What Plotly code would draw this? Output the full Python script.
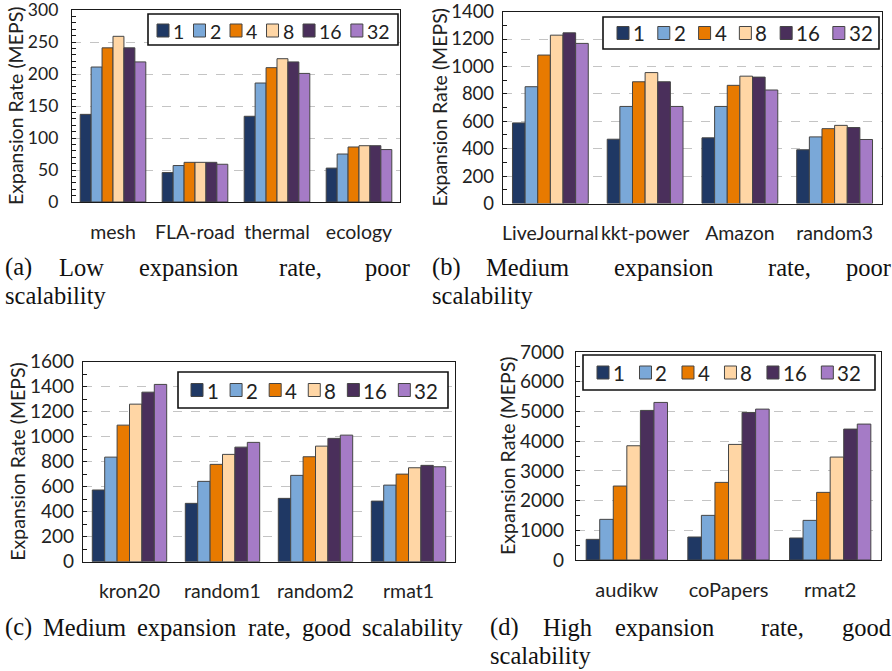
import plotly.graph_objects as go

W, H = 892, 671

# Thread counts (series) and their bar colours
threads = ["1", "2", "4", "8", "16", "32"]
bar_colors = ["#1F3864", "#7AA8D8", "#E87A00", "#FFD6A5", "#4A2F5B", "#A57BC6"]

# (a) Low expansion rate, poor scalability
cats_a = ["mesh", "FLA-road", "thermal", "ecology"]
rates_a = [
    [137, 46, 134, 53],     # 1
    [211, 57, 186, 75],     # 2
    [241, 62, 210, 86],     # 4
    [259, 62, 224, 88],     # 8
    [241, 62, 219, 88],     # 16
    [219, 59, 201, 82],     # 32
]

# (b) Medium expansion rate, poor scalability
cats_b = ["LiveJournal", "kkt-power", "Amazon", "random3"]
rates_b = [
    [588, 469, 479, 392],
    [852, 708, 708, 486],
    [1083, 888, 862, 546],
    [1228, 955, 929, 570],
    [1245, 888, 922, 554],
    [1168, 708, 828, 467],
]

# (c) Medium expansion rate, good scalability
cats_c = ["kron20", "random1", "random2", "rmat1"]
rates_c = [
    [574, 467, 507, 485],
    [837, 643, 691, 613],
    [1093, 779, 840, 701],
    [1261, 859, 925, 752],
    [1357, 917, 987, 771],
    [1419, 955, 1013, 760],
]

# (d) High expansion rate, good scalability
cats_d = ["audikw", "coPapers", "rmat2"]
rates_d = [
    [695, 774, 740],
    [1368, 1502, 1334],
    [2489, 2612, 2276],
    [3845, 3890, 3464],
    [5034, 4966, 4406],
    [5303, 5078, 4574],
]

y_title = "Expansion Rate (MEPS)"

# Panel geometry in pixels: plot box (left, top, right, bottom), axis settings,
# y-title centre x, and legend box / first swatch / row centre / font / item spacing
panels = [
    dict(cats=cats_a, rates=rates_a, box=(72, 10, 400, 202), ymax=300, dtick=50, minor=10,
         cat_size=19.5, tick_size=17.5, tick_gap=9, title_x=16,
         leg_box=(148, 14, 398, 45), leg_x=157, leg_cy=30.5, leg_font=19.5, leg_c=25.2),
    dict(cats=cats_b, rates=rates_b, box=(503, 11.5, 882, 203.5), ymax=1400, dtick=200, minor=100,
         cat_size=19.5, tick_size=18.5, tick_gap=4, title_x=439,
         leg_box=(603, 17, 879, 49), leg_x=617, leg_cy=33, leg_font=20.5, leg_c=28.9),
    dict(cats=cats_c, rates=rates_c, box=(83, 361.7, 455, 561.7), ymax=1600, dtick=200, minor=100,
         cat_size=19.5, tick_size=19, tick_gap=4, title_x=18,
         leg_box=(178, 372, 448, 408), leg_x=191, leg_cy=390, leg_font=20.5, leg_c=27.2),
    dict(cats=cats_d, rates=rates_d, box=(576, 351.9, 881, 560), ymax=7000, dtick=1000, minor=500,
         cat_size=20, tick_size=19, tick_gap=7, title_x=508,
         leg_box=(583, 355, 875, 390), leg_x=597, leg_cy=372.5, leg_font=20.5, leg_c=30.6),
]

# Sub-figure captions, set word by word to keep the justified lines: (text, left x, centre y)
captions = [
    ("(a)", 3, 267), ("Low", 57, 267), ("expansion", 137, 267), ("rate,", 277, 267),
    ("poor", 363, 267), ("scalability", 3, 295),
    ("(b)", 430, 267), ("Medium", 484, 267), ("expansion", 612, 267), ("rate,", 766, 267),
    ("poor", 844, 267), ("scalability", 430, 295),
    ("(c)", 3, 627), ("Medium", 41, 627), ("expansion", 135, 627), ("rate,", 246, 627),
    ("good", 300, 627), ("scalability", 360, 627),
    ("(d)", 488, 627), ("High", 541, 627), ("expansion", 613, 627), ("rate,", 759, 627),
    ("good", 840, 627), ("scalability", 488, 655),
]

SANS = "Lato"
SERIF = "Liberation Serif"
TXT = "#222222"


def fx(px):
    return px / W


def fy(py):
    return 1 - py / H


fig = go.Figure()
shapes = []
annotations = []

for i, p in enumerate(panels):
    n = "" if i == 0 else str(i + 1)
    for t, name in enumerate(threads):
        fig.add_trace(go.Bar(
            x=p["cats"], y=p["rates"][t], name=name,
            marker=dict(color=bar_colors[t], line=dict(color="#454545", width=1)),
            xaxis="x" + n, yaxis="y" + n, showlegend=False,
        ))

    x0, y0, x1, y1 = p["box"]
    fig.layout["xaxis" + n] = dict(
        domain=[fx(x0), fx(x1)], anchor="y" + n,
        showline=True, linecolor="#1a1a1a", linewidth=1.4, mirror=True,
        ticks="", showgrid=False, automargin=False,
        tickfont=dict(family=SANS, size=p["cat_size"], color=TXT),
        ticklabelstandoff=12,
    )
    fig.layout["yaxis" + n] = dict(
        domain=[fy(y1), fy(y0)], anchor="x" + n,
        range=[0, p["ymax"] * 1.0005], dtick=p["dtick"], tick0=0,
        showline=True, linecolor="#1a1a1a", linewidth=1.4, mirror=True,
        zeroline=False, automargin=False,
        showgrid=True, gridcolor="#c4c4c4", gridwidth=1, griddash="dash",
        ticks="inside", ticklen=4, tickcolor="#1a1a1a",
        minor=dict(dtick=p["minor"], ticks="inside", ticklen=4, tickcolor="#1a1a1a", showgrid=False),
        tickfont=dict(family=SANS, size=p["tick_size"], color=TXT),
        ticklabelstandoff=p["tick_gap"], ticklabeloverflow="allow",
    )

    # Rotated y-axis title centred on the plot height
    annotations.append(dict(text=y_title, xref="paper", yref="paper",
                            x=fx(p["title_x"]), y=fy((y0 + y1) / 2), xanchor="center", yanchor="middle",
                            textangle=-90, showarrow=False,
                            font=dict(family=SANS, size=19.5, color=TXT)))

    # Legend: framed box with a colour swatch and label for each thread count
    lx0, ly0, lx1, ly1 = p["leg_box"]
    shapes.append(dict(type="rect", xref="paper", yref="paper",
                       x0=fx(lx0), x1=fx(lx1), y0=fy(ly1), y1=fy(ly0),
                       line=dict(color="#111111", width=1.6), fillcolor="white", layer="above"))
    sw, sh = 12, 13
    digit_w = 0.58 * p["leg_font"]
    x = p["leg_x"]
    cy = p["leg_cy"]
    for t, name in enumerate(threads):
        shapes.append(dict(type="rect", xref="paper", yref="paper",
                           x0=fx(x), x1=fx(x + sw), y0=fy(cy + sh / 2), y1=fy(cy - sh / 2),
                           line=dict(color="#454545", width=1), fillcolor=bar_colors[t], layer="above"))
        annotations.append(dict(text=name, xref="paper", yref="paper",
                                x=fx(x + sw + 2), y=fy(cy + 0.5), xanchor="left", yanchor="middle",
                                showarrow=False, font=dict(family=SANS, size=p["leg_font"], color=TXT)))
        x += p["leg_c"] + digit_w * len(name)

for text, cx, cy in captions:
    annotations.append(dict(text=text, xref="paper", yref="paper",
                            x=fx(cx), y=fy(cy), xanchor="left", yanchor="middle",
                            showarrow=False, font=dict(family=SERIF, size=24.5, color="#111111")))

fig.update_layout(
    width=W, height=H,
    margin=dict(l=0, r=0, t=0, b=0),
    paper_bgcolor="white", plot_bgcolor="white",
    barmode="group", bargap=0.2, bargroupgap=0,
    shapes=shapes, annotations=annotations,
    showlegend=False,
)

fig.write_html("out.html")
